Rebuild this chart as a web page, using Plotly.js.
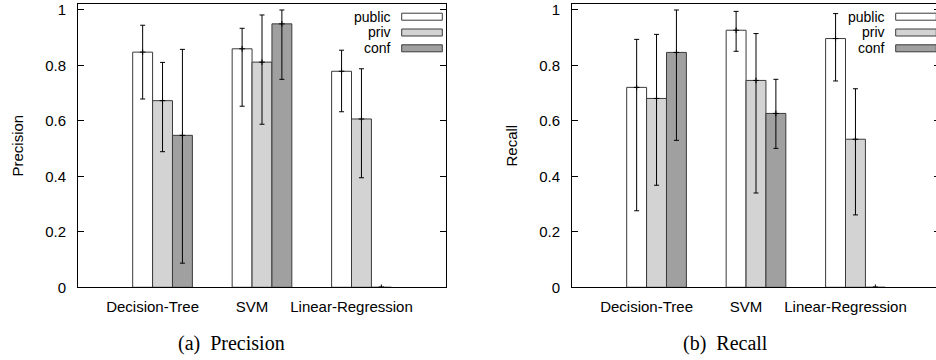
<!DOCTYPE html>
<html><head><meta charset="utf-8">
<script src="https://cdn.plot.ly/plotly-3.0.1.min.js"></script>
<style>html,body{margin:0;padding:0;overflow:hidden;background:#fff;width:936px;height:360px}#chart{width:944px;height:360px}</style>
</head><body><div id="chart"></div>
<script>
// ---- data ----
const categories = ["Decision-Tree", "SVM", "Linear-Regression"];
const seriesNames = ["public", "priv", "conf"];
const panelTitles = ["Precision", "Recall"];
const captions = ["(a)\u00a0\u00a0Precision", "(b)\u00a0\u00a0Recall"];
const yTickVals = [0, 0.2, 0.4, 0.6, 0.8, 1];
const yTickText = ["0", "0.2", "0.4", "0.6", "0.8", "1"];

// Precision
const precPublic     = [0.848, 0.860, 0.779];
const precPublicLow  = [0.679, 0.653, 0.633];
const precPublicHigh = [0.945, 0.934, 0.855];
const precPriv       = [0.673, 0.812, 0.607];
const precPrivLow    = [0.489, 0.588, 0.395];
const precPrivHigh   = [0.811, 0.982, 0.788];
const precConf       = [0.548, 0.950, 0];
const precConfLow    = [0.087, 0.750, 0];
const precConfHigh   = [0.858, 1.000, 0];

// Recall
const recPublic      = [0.721, 0.927, 0.897];
const recPublicLow   = [0.276, 0.851, 0.744];
const recPublicHigh  = [0.894, 0.995, 0.987];
const recPriv        = [0.681, 0.746, 0.534];
const recPrivLow     = [0.368, 0.340, 0.261];
const recPrivHigh    = [0.912, 0.915, 0.716];
const recConf        = [0.847, 0.627, 0];
const recConfLow     = [0.530, 0.501, 0];
const recConfHigh    = [1.000, 0.750, 0];

// ---- styling ----
const fills = ["#ffffff", "#d3d3d3", "#a0a0a0"];
const outline = "#3a3a3a";
const barWidth = 0.2;
const shifts = [-0.1, 0.1, 0.3];
const W = 944, H = 360;
const FONT = "Liberation Sans, Arial, Helvetica, sans-serif";

const panels = [
  {vals: [precPublic, precPriv, precConf], lows: [precPublicLow, precPrivLow, precConfLow], highs: [precPublicHigh, precPrivHigh, precConfHigh], left: 78},
  {vals: [recPublic, recPriv, recConf], lows: [recPublicLow, recPrivLow, recConfLow], highs: [recPublicHigh, recPrivHigh, recConfHigh], left: 572}
];

const traces = [];
const idx = categories.map((c, i) => i);
panels.forEach((p, k) => {
  const xa = k === 0 ? "x" : "x2";
  const ya = k === 0 ? "y" : "y2";
  p.vals.forEach((v, s) => {
    const xs = idx.map(i => i + shifts[s]);
    traces.push({
      type: "bar", name: seriesNames[s], x: xs, y: v, width: barWidth,
      xaxis: xa, yaxis: ya,
      marker: {color: fills[s], line: {color: outline, width: 1}},
      error_y: {type: "data", symmetric: false,
        array: v.map((val, i) => p.highs[s][i] - val),
        arrayminus: v.map((val, i) => val - p.lows[s][i]),
        color: "#000", thickness: 1, width: 2.5},
      hoverinfo: "skip", showlegend: false
    });
    traces.push({
      type: "scatter", mode: "markers", x: xs, y: v, xaxis: xa, yaxis: ya,
      marker: {symbol: "cross-thin", size: 4, line: {color: "#000", width: 1}},
      hoverinfo: "skip", showlegend: false
    });
  });
});

const yDomain = [(H - 287.3) / H, (H - 4) / H];
function xAxis(left, anchor) {
  return {domain: [left / W, (left + 368) / W], range: [-0.75, 2.95], anchor: anchor,
    tickvals: idx, ticktext: categories, ticks: "", showline: true, mirror: true,
    linecolor: "#000", linewidth: 1, showgrid: false, zeroline: false, fixedrange: true,
    tickfont: {family: FONT, size: 15, color: "#000"}, ticklabelstandoff: 6};
}
function yAxis(anchor, title) {
  return {domain: yDomain, range: [0, 1.0216], anchor: anchor,
    tickvals: yTickVals, ticktext: yTickText, ticks: "inside", ticklen: 6, tickcolor: "#000",
    showline: true, mirror: "ticks", linecolor: "#000", linewidth: 1,
    showgrid: false, zeroline: false, fixedrange: true,
    tickfont: {family: FONT, size: 15, color: "#000"}, ticklabelstandoff: 8,
    title: {text: title, font: {family: FONT, size: 15, color: "#000"}, standoff: 17}};
}

const annotations = [];
const shapes = [];
const rowY = [16.7, 32.5, 48.3];
panels.forEach((p, k) => {
  const xr = k === 0 ? "x domain" : "x2 domain";
  const yr = k === 0 ? "y domain" : "y2 domain";
  seriesNames.forEach((nm, s) => {
    const yc = (287.3 - rowY[s]) / 283.3;
    annotations.push({xref: xr, yref: yr, x: (392 - 78) / 368, y: yc, xanchor: "right", yanchor: "middle",
      text: nm, showarrow: false, borderpad: 0, font: {family: FONT, size: 14, color: "#000"}});
    shapes.push({type: "rect", xref: xr, yref: yr, x0: (401.7 - 78) / 368, x1: (442.3 - 78) / 368,
      y0: yc - 3.5 / 283.3, y1: yc + 3.5 / 283.3, fillcolor: fills[s], line: {color: outline, width: 1}});
  });
  annotations.push({xref: "paper", yref: "paper", x: (p.left + 153.3) / W, y: (H - 343.3) / H,
    xanchor: "center", yanchor: "middle", text: captions[k], showarrow: false,
    font: {family: "Liberation Serif, Times New Roman, serif", size: 20, color: "#000"}});
});

const layout = {
  width: W, height: H, margin: {l: 0, r: 0, t: 0, b: 0},
  paper_bgcolor: "#fff", plot_bgcolor: "#fff", showlegend: false, barmode: "overlay",
  xaxis: xAxis(78, "y"), yaxis: yAxis("x", panelTitles[0]),
  xaxis2: xAxis(572, "y2"), yaxis2: yAxis("x2", panelTitles[1]),
  annotations: annotations, shapes: shapes
};
Plotly.newPlot("chart", traces, layout, {staticPlot: true, displayModeBar: false});
</script></body></html>
